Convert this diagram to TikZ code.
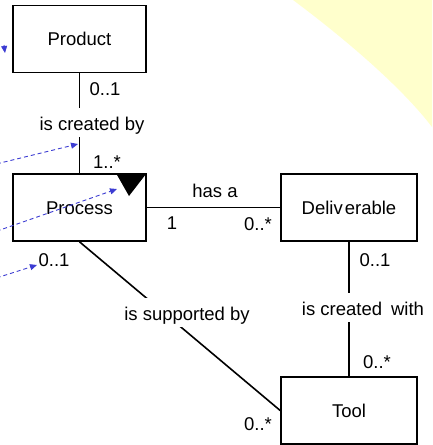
\documentclass[tikz,border=0pt]{standalone}
\usepackage{fontspec}
\setmainfont{Liberation Sans}
\usetikzlibrary{arrows.meta}
\definecolor{paleyellow}{HTML}{FFFFCC}
\definecolor{depblue}{RGB}{60,60,210}
\tikzset{
  classbox/.style={draw=black, line width=1.6pt, fill=white, minimum width=133pt, minimum height=67pt,
    text height=13.5pt, text depth=0pt, inner sep=0pt, font=\fontsize{18.5}{22}\selectfont},
  assoc/.style={draw=black, line width=1.6pt},
  mult/.style={anchor=base, inner sep=0pt, font=\fontsize{18.5}{22}\selectfont},
  rolelabel/.style={anchor=base, fill=white, inner xsep=2pt, inner ysep=2.5pt, text height=20pt, text depth=4pt,
    font=\fontsize{18.5}{22}\selectfont},
  depend/.style={draw=depblue, line width=0.9pt, dash pattern=on 4pt off 3pt, -{Triangle[length=7pt,width=6pt]}},
}
\begin{document}
\begin{tikzpicture}[x=1pt,y=-1pt]
\useasboundingbox (0,0) rectangle (432,445);
% yellow background shape
\fill[paleyellow] (293,0) .. controls (340,35) and (400,85) .. (432,127) -- (432,0) -- cycle;

% classes
\node[classbox] (product) at (79.5,39) {Product};
\node[classbox] (process) at (79.5,207.5) {Process};
\node[classbox, minimum width=136pt] (deliv) at (349,207.5) {Deliv\kern2pt erable};
\node[classbox, minimum width=136pt] (tool) at (349,410.5) {Tool};

% black triangle on Process
\fill[black] (116.5,174) -- (146,174) -- (129,196) -- cycle;

% associations
\draw[assoc] (product.south) -- (process.north);
\draw[assoc] (process.east) -- (deliv.west);
\draw[assoc] (deliv.south) -- (tool.north);
\draw[assoc] (process.south) -- (tool.west);

% association labels
\node[rolelabel] (lblcreated) at (92,130) {is created by};
\node[rolelabel] (lblwith) at (363,315) {is created\hspace{9pt}with};
\node[rolelabel] (lblsupported) at (187,320) {is supported by};
\node[mult] (lblhas) at (215,197) {has a};

% multiplicities
\node[mult] (m1) at (105,95) {0..1};
\node[mult] (m2) at (107,168) {1..*};
\node[mult] (m3) at (172,229) {1};
\node[mult] (m4) at (258,230) {0..*};
\node[mult] (m5) at (375,266) {0..1};
\node[mult] (m6) at (377,368) {0..*};
\node[mult] (m7) at (258,430) {0..*};
\node[mult] (m8) at (54,266) {0..1};

% dependency arrows from outside
\begin{scope}
\clip (0,0) rectangle (432,445);
\coordinate (s1) at (4,45);
\coordinate (t1) at (5,53);
\coordinate (s2) at (-10,165.5);
\coordinate (t2) at (78,144);
\coordinate (s3) at (-10,233.5);
\coordinate (t3) at (117,189);
\coordinate (s4) at (-10,280);
\coordinate (t4) at (37,265);
\draw[depend] (s1) -- (t1);
\draw[depend] (s2) -- (t2);
\draw[depend] (s3) -- (t3);
\draw[depend] (s4) -- (t4);
\end{scope}
\end{tikzpicture}
\end{document}
